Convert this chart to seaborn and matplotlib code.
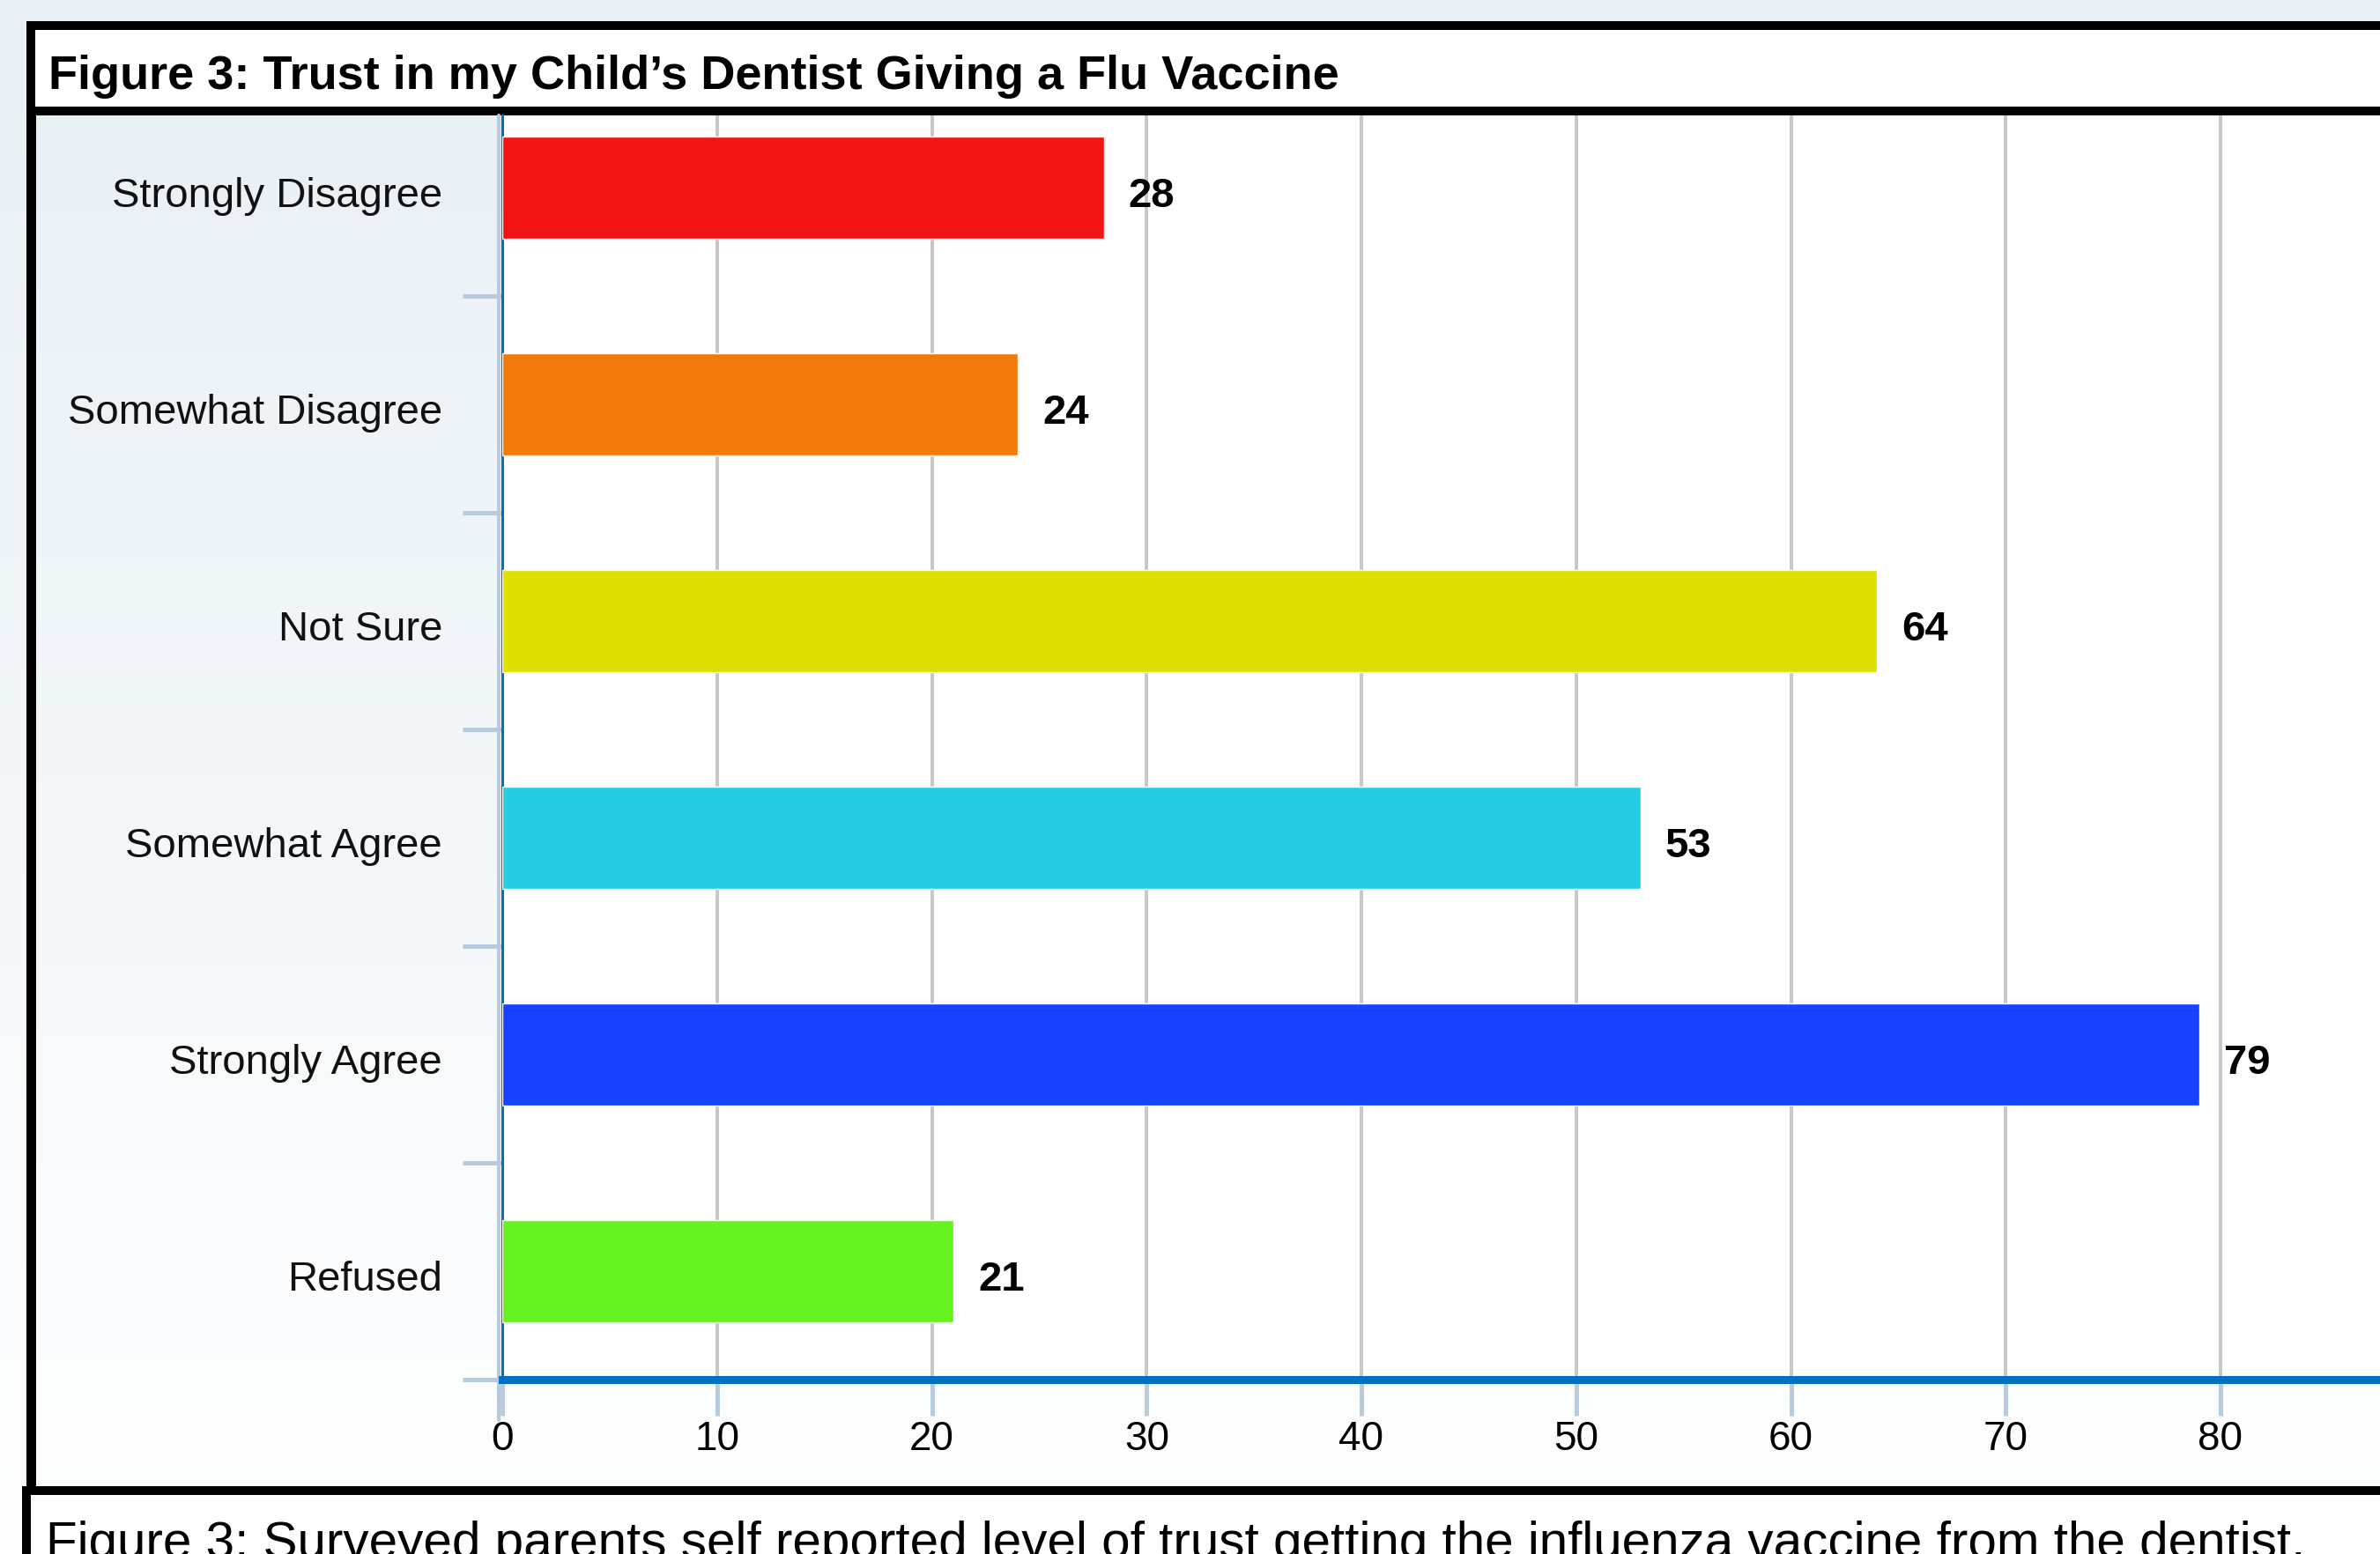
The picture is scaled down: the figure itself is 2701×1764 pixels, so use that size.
import numpy as np
import pandas as pd
import matplotlib
matplotlib.use("Agg")
import matplotlib.pyplot as plt
import matplotlib.transforms as mtrans
import seaborn as sns
from matplotlib.patches import Rectangle
from matplotlib.colors import LinearSegmentedColormap

# -------------------------------
# DATA
# -------------------------------
categories = ["Strongly Disagree", "Somewhat Disagree", "Not Sure",
              "Somewhat Agree", "Strongly Agree", "Refused"]
counts = [28, 24, 64, 53, 79, 21]
bar_colors = ["#F21414", "#F27A0A", "#DDE000", "#26CBE4", "#1740FF", "#66F221"]
x_ticks = [0, 10, 20, 30, 40, 50, 60, 70, 80]

title = "Figure 3: Trust in my Child\u2019s Dentist Giving a Flu Vaccine"
caption = ("Figure 3: Surveyed parents self reported level of trust getting "
           "the influenza vaccine from the dentist.")

df = pd.DataFrame({"response": categories, "count": counts})

# -------------------------------
# FIGURE
# -------------------------------
sns.set_theme(style="white")
plt.rcParams["font.family"] = ["Liberation Sans", "DejaVu Sans"]

W, H = 2701, 1765
DPI = 100
fig = plt.figure(figsize=(W / DPI, H / DPI), dpi=DPI)

# background layer in pixel coordinates
bg = fig.add_axes([0, 0, 1, 1])
bg.set_xlim(0, W)
bg.set_ylim(H, 0)
bg.axis("off")
grad = LinearSegmentedColormap.from_list("bg", ["#E8F0F5", "#F3F7FA", "#FFFFFF"])
bg.imshow(np.linspace(0, 1, 256).reshape(-1, 1), cmap=grad, aspect="auto",
          extent=[0, W, H, 0], zorder=0)

px = 72 / DPI  # points per pixel

# title band
bg.add_patch(Rectangle((34.5, 30), 2800, 97, facecolor="white",
                       edgecolor="black", lw=10 * px, zorder=2))
bg.text(55, 101, title, fontsize=39, fontweight="bold", va="baseline",
        ha="left", color="black", zorder=3)

# frame left side
bg.plot([34.5, 34.5], [127, 1693], color="black", lw=11 * px,
        solid_capstyle="butt", zorder=2)
# caption band
bg.add_patch(Rectangle((30, 1693), 2800, 200, facecolor="white",
                       edgecolor="black", lw=10 * px, zorder=2))
bg.text(52, 1768, caption, fontsize=42, va="baseline", ha="left",
        color="black", zorder=3)

# light line beside the value axis
bg.plot([566, 566], [132, 1613], color="#B9CADB", lw=4 * px, zorder=2)

# -------------------------------
# BAR CHART
# -------------------------------
x0, x1 = 570, W
y_top, y_bot = 132, 1567
ax = fig.add_axes([x0 / W, 1 - y_bot / H, (x1 - x0) / W, (y_bot - y_top) / H])
ax.set_zorder(2)
ax.set_facecolor("white")

sns.barplot(data=df, x="count", y="response", hue="response",
            palette=bar_colors, orient="h", width=0.47, dodge=False,
            legend=False, saturation=1, ax=ax, zorder=3)

ax.set_xlim(0, (W - x0) / 24.375)
ax.set_ylim(5.5, -0.333)
ax.set_xticks(x_ticks)
ax.set_xticklabels([str(t) for t in x_ticks])
ax.set_xlabel("")
ax.set_ylabel("")

ax.set_axisbelow(True)
ax.grid(axis="x", color="#C8C8C8", lw=4 * px)
ax.grid(axis="y", visible=False)

for s in ["top", "right"]:
    ax.spines[s].set_visible(False)
ax.spines["left"].set_color("#0070C0")
ax.spines["left"].set_linewidth(3 * px)
ax.spines["bottom"].set_color("#0070C0")
ax.spines["bottom"].set_linewidth(9 * px)
ax.spines["bottom"].set_zorder(4)

ax.tick_params(axis="x", direction="out", length=41 * px, width=5 * px,
               color="#B9CADB", pad=4 * px, labelsize=33, labelcolor="black",
               bottom=True)
ax.tick_params(axis="y", which="major", length=0, pad=68 * px,
               labelsize=34, labelcolor="#111111", left=True)
ax.set_yticks(np.arange(len(categories)) + 0.5, minor=True)
ax.tick_params(axis="y", which="minor", direction="out", length=45 * px,
               width=5 * px, color="#B9CADB", left=True)

# nudge category labels slightly down
shift = mtrans.ScaledTranslation(0, -4 / DPI, fig.dpi_scale_trans)
for lab in ax.get_yticklabels():
    lab.set_transform(lab.get_transform() + shift)

for i, v in enumerate(counts):
    ax.text(v + 1.15, i, str(v), va="center_baseline", ha="left", fontsize=34,
            fontweight="bold", color="black", zorder=5,
            transform=ax.transData + shift)

fig.savefig("out.png", dpi=DPI)
plt.close(fig)
